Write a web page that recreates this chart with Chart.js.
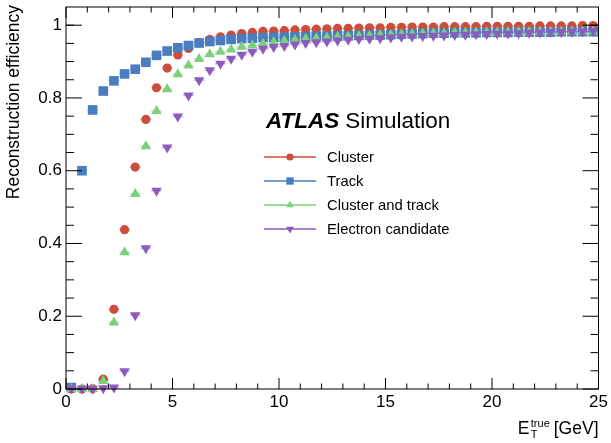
<!DOCTYPE html>
<html>
<head>
<meta charset="utf-8">
<script src="https://cdn.jsdelivr.net/npm/chart.js@4.4.1/dist/chart.umd.min.js"></script>
<style>
  html, body { margin: 0; padding: 0; background: #fff; }
  #wrap { width: 611px; height: 443px; }
</style>
</head>
<body>
<div id="wrap"><canvas id="eff" width="611" height="443"></canvas></div>
<script>
// --- data (bins of 0.5 GeV) ---
const binCenters = [0.25, 0.75, 1.25, 1.75, 2.25, 2.75, 3.25, 3.75, 4.25, 4.75,
    5.25, 5.75, 6.25, 6.75, 7.25, 7.75, 8.25, 8.75, 9.25, 9.75,
    10.25, 10.75, 11.25, 11.75, 12.25, 12.75, 13.25, 13.75, 14.25, 14.75,
    15.25, 15.75, 16.25, 16.75, 17.25, 17.75, 18.25, 18.75, 19.25, 19.75,
    20.25, 20.75, 21.25, 21.75, 22.25, 22.75, 23.25, 23.75, 24.25, 24.75];
const binHalfWidth = 0.25;

const clusterEff = [0.000, 0.000, 0.001, 0.027, 0.219, 0.438, 0.610, 0.741, 0.828, 0.882,
    0.918, 0.936, 0.952, 0.961, 0.968, 0.973, 0.977, 0.980, 0.983, 0.984,
    0.985, 0.987, 0.988, 0.989, 0.990, 0.991, 0.991, 0.992, 0.993, 0.993,
    0.994, 0.994, 0.995, 0.995, 0.995, 0.996, 0.996, 0.996, 0.996, 0.997,
    0.997, 0.997, 0.997, 0.997, 0.998, 0.998, 0.998, 0.998, 0.999, 0.999];

const trackEff = [0.004, 0.600, 0.767, 0.819, 0.847, 0.866, 0.879, 0.898, 0.917, 0.929,
    0.938, 0.944, 0.951, 0.955, 0.958, 0.961, 0.963, 0.964, 0.966, 0.967,
    0.967, 0.968, 0.969, 0.970, 0.970, 0.971, 0.971, 0.972, 0.973, 0.973,
    0.974, 0.975, 0.976, 0.977, 0.978, 0.978, 0.979, 0.979, 0.979, 0.980,
    0.980, 0.980, 0.981, 0.981, 0.981, 0.981, 0.982, 0.982, 0.982, 0.982];

const clusterTrackEff = [0.000, 0.000, 0.000, 0.022, 0.183, 0.376, 0.536, 0.667, 0.764, 0.824,
    0.865, 0.889, 0.907, 0.920, 0.927, 0.933, 0.941, 0.945, 0.949, 0.954,
    0.957, 0.960, 0.963, 0.964, 0.966, 0.968, 0.969, 0.970, 0.971, 0.973,
    0.974, 0.975, 0.976, 0.977, 0.978, 0.978, 0.979, 0.979, 0.980, 0.980,
    0.980, 0.981, 0.981, 0.981, 0.982, 0.982, 0.982, 0.983, 0.983, 0.983];

const electronEff = [0.002, 0.001, 0.001, 0.002, 0.004, 0.049, 0.203, 0.387, 0.545, 0.664,
    0.749, 0.807, 0.849, 0.876, 0.894, 0.908, 0.919, 0.927, 0.935, 0.940,
    0.943, 0.947, 0.951, 0.953, 0.955, 0.958, 0.960, 0.962, 0.963, 0.964,
    0.966, 0.968, 0.969, 0.970, 0.971, 0.972, 0.973, 0.974, 0.975, 0.976,
    0.977, 0.977, 0.978, 0.979, 0.980, 0.981, 0.981, 0.982, 0.983, 0.984];

const seriesLabels = ['Cluster', 'Track', 'Cluster and track', 'Electron candidate'];
const seriesValues = [clusterEff, trackEff, clusterTrackEff, electronEff];

const xTicks = [0, 5, 10, 15, 20, 25];
const xMinorTicks = [1, 2, 3, 4, 6, 7, 8, 9, 11, 12, 13, 14, 16, 17, 18, 19, 21, 22, 23, 24];
const yTicks = [0, 0.2, 0.4, 0.6, 0.8, 1];
const yMinorTicks = [0.05, 0.1, 0.15, 0.25, 0.3, 0.35, 0.45, 0.5, 0.55, 0.65, 0.7, 0.75,
    0.85, 0.9, 0.95, 1.0];

// --- look ---
const FONT = '"Liberation Sans", Arial, Helvetica, sans-serif';
const styles = [
    { color: '#cd4d3c', bar: 'rgba(205,77,60,0.45)',  shape: 'circle',   radius: 4.6, rot: 0,   legR: 3.6 },
    { color: '#4a7dbf', bar: 'rgba(74,125,191,0.45)', shape: 'rect',     radius: 6.8, rot: 0,   legR: 5.2 },
    { color: '#7ccf7c', bar: 'rgba(124,207,124,0.5)', shape: 'triangle', radius: 6.0, rot: 0,   legR: 4.4 },
    { color: '#8b5bbf', bar: 'rgba(139,91,191,0.45)', shape: 'triangle', radius: 6.0, rot: 180, legR: 4.4 }
];

const atlasDecor = {
    id: 'atlasDecor',
    beforeDatasetsDraw(chart) {
        // horizontal error bars = bin width
        const ctx = chart.ctx, xs = chart.scales.x, ys = chart.scales.y;
        ctx.save();
        ctx.lineWidth = 1.5;
        seriesValues.forEach((vals, k) => {
            ctx.strokeStyle = styles[k].bar;
            vals.forEach((v, i) => {
                const y = ys.getPixelForValue(v);
                ctx.beginPath();
                ctx.moveTo(xs.getPixelForValue(binCenters[i] - binHalfWidth), y);
                ctx.lineTo(xs.getPixelForValue(binCenters[i] + binHalfWidth), y);
                ctx.stroke();
            });
        });
        ctx.restore();
    },
    afterDraw(chart) {
        const ctx = chart.ctx, xs = chart.scales.x, ys = chart.scales.y;
        const a = chart.chartArea;
        ctx.save();

        // frame
        ctx.strokeStyle = '#000';
        ctx.lineWidth = 1;
        ctx.strokeRect(a.left, a.top, a.right - a.left, a.bottom - a.top);

        // ticks pointing inward, on all four sides
        const xt = (v, len) => {
            const px = xs.getPixelForValue(v);
            ctx.moveTo(px, a.bottom); ctx.lineTo(px, a.bottom - len);
            ctx.moveTo(px, a.top); ctx.lineTo(px, a.top + len);
        };
        const yt = (v, len) => {
            const py = ys.getPixelForValue(v);
            ctx.moveTo(a.left, py); ctx.lineTo(a.left + len, py);
            ctx.moveTo(a.right, py); ctx.lineTo(a.right - len, py);
        };
        ctx.beginPath();
        xTicks.forEach(v => xt(v, 11));
        xMinorTicks.forEach(v => xt(v, 5.5));
        yTicks.forEach(v => yt(v, 16));
        yMinorTicks.forEach(v => yt(v, 8));
        ctx.stroke();

        ctx.fillStyle = '#000';
        ctx.textBaseline = 'alphabetic';

        // y title
        ctx.save();
        ctx.translate(19, 5);
        ctx.rotate(-Math.PI / 2);
        ctx.font = '17.5px ' + FONT;
        ctx.textAlign = 'right';
        ctx.fillText('Reconstruction efficiency', 0, 0);
        ctx.restore();

        // x title  E_T^true [GeV]
        ctx.textAlign = 'left';
        ctx.font = '17.5px ' + FONT;
        const unit = '[GeV]';
        const xUnit = a.right - ctx.measureText(unit).width;
        ctx.fillText(unit, xUnit, 434);
        ctx.font = '11px ' + FONT;
        const xSup = xUnit - 4 - ctx.measureText('true').width;
        ctx.fillText('true', xSup, 427);
        ctx.fillText('T', xSup, 438);
        ctx.font = '17.5px ' + FONT;
        ctx.fillText('E', xSup - 1.5 - ctx.measureText('E').width, 434);

        // ATLAS Simulation
        ctx.font = 'italic bold 22.5px ' + FONT;
        ctx.fillText('ATLAS', 266, 127.5);
        const wAtlas = ctx.measureText('ATLAS').width;
        ctx.font = '22.5px ' + FONT;
        ctx.fillText('Simulation', 266 + wAtlas + 6, 127.5);

        // legend
        const rows = [157, 181, 205, 229];
        ctx.font = '14.8px ' + FONT;
        ctx.textBaseline = 'middle';
        seriesLabels.forEach((lab, k) => {
            const st = styles[k], y = rows[k];
            ctx.strokeStyle = st.color;
            ctx.lineWidth = 1.5;
            ctx.beginPath();
            ctx.moveTo(264, y); ctx.lineTo(316, y);
            ctx.stroke();
            ctx.fillStyle = st.color;
            Chart.helpers.drawPoint(ctx, { pointStyle: st.shape, radius: st.legR, rotation: st.rot, borderWidth: 0 }, 290, y);
            ctx.fillStyle = '#000';
            ctx.fillText(lab, 327, y + 1);
        });
        ctx.restore();
    }
};

new Chart(document.getElementById('eff'), {
    type: 'scatter',
    data: {
        datasets: seriesValues.map((vals, k) => ({
            label: seriesLabels[k],
            data: binCenters.map((x, i) => ({ x: x, y: vals[i] })),
            showLine: false,
            pointStyle: styles[k].shape,
            pointRadius: styles[k].radius,
            pointRotation: styles[k].rot,
            backgroundColor: styles[k].color,
            borderWidth: 0,
            pointBorderWidth: 0,
            clip: false,
            order: seriesValues.length - k
        }))
    },
    options: {
        responsive: false,
        animation: false,
        devicePixelRatio: 1,
        layout: { padding: { left: 0, top: 7, right: 12.5, bottom: 0 } },
        plugins: { legend: { display: false }, tooltip: { enabled: false } },
        scales: {
            x: {
                type: 'linear', min: 0, max: 25,
                grid: { display: false, drawTicks: false },
                border: { display: false },
                ticks: {
                    color: '#000', font: { family: FONT, size: 17 }, padding: 3,
                    maxRotation: 0, autoSkip: false,
                    callback: v => String(v)
                },
                afterBuildTicks: s => { s.ticks = xTicks.map(v => ({ value: v })); },
                afterFit: s => { s.height = 54; s.paddingLeft = 0; s.paddingRight = 0; }
            },
            y: {
                type: 'linear', min: 0, max: 1.05,
                grid: { display: false, drawTicks: false },
                border: { display: false },
                ticks: {
                    color: '#000', font: { family: FONT, size: 17 }, padding: 4,
                    callback: v => String(v)
                },
                afterBuildTicks: s => { s.ticks = yTicks.map(v => ({ value: v })); },
                afterFit: s => { s.width = 66; s.paddingTop = 0; s.paddingBottom = 0; }
            }
        }
    },
    plugins: [atlasDecor]
});
</script>
</body>
</html>
